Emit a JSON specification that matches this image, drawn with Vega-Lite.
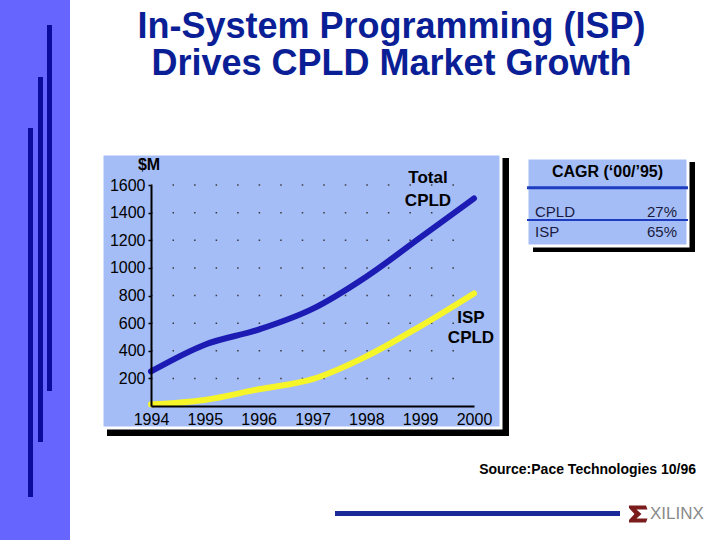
{
  "$schema": "https://vega.github.io/schema/vega-lite/v6.json",
  "width": 323,
  "height": 221,
  "autosize": {"type": "none"},
  "padding": {"left": 151, "top": 185, "right": 246, "bottom": 134},
  "background": "white",
  "config": {
    "font": "Liberation Sans",
    "view": {"stroke": null}
  },
  "datasets": {
    "market": [
      {"year": 1994, "series": "Total CPLD", "value": 250},
      {"year": 1995, "series": "Total CPLD", "value": 444},
      {"year": 1996, "series": "Total CPLD", "value": 553},
      {"year": 1997, "series": "Total CPLD", "value": 703},
      {"year": 1998, "series": "Total CPLD", "value": 936},
      {"year": 1999, "series": "Total CPLD", "value": 1219},
      {"year": 2000, "series": "Total CPLD", "value": 1503},
      {"year": 1994, "series": "ISP CPLD", "value": 12},
      {"year": 1995, "series": "ISP CPLD", "value": 44},
      {"year": 1996, "series": "ISP CPLD", "value": 121},
      {"year": 1997, "series": "ISP CPLD", "value": 194},
      {"year": 1998, "series": "ISP CPLD", "value": 359},
      {"year": 1999, "series": "ISP CPLD", "value": 577},
      {"year": 2000, "series": "ISP CPLD", "value": 815}
    ],
    "cagr": [
      {"metric": "CPLD", "cagr": 0.27},
      {"metric": "ISP", "cagr": 0.65}
    ],
    "levels": [
      {"level": 200}, {"level": 400}, {"level": 600}, {"level": 800},
      {"level": 1000}, {"level": 1200}, {"level": 1400}, {"level": 1600}
    ],
    "one": [{}]
  },
  "layer": [
    {
      "data": {"name": "one"},
      "mark": {"type": "rect", "color": "#6666ff", "clip": false},
      "encoding": {
        "x": {
          "datum": 1991.0, "type": "quantitative",
          "scale": {"domain": [1994, 2000], "nice": false, "zero": false},
          "axis": {
            "title": null, "values": [1994, 1995, 1996, 1997, 1998, 1999, 2000], "tickCount": 12, "format": "d",
            "labelFontSize": 16, "labelColor": "black", "labelPadding": 5, "labelFlush": false, "labelOverlap": false,
            "ticks": false, "grid": false, "domainColor": "black", "domainWidth": 2, "zindex": 1
          }
        },
        "x2": {"datum": 1992.4954},
        "y": {
          "datum": -1200, "type": "quantitative",
          "scale": {"domain": [0, 1600], "nice": false, "zero": true},
          "axis": {
            "title": null, "values": [200, 400, 600, 800, 1000, 1200, 1400, 1600], "tickCount": 12, "format": "d",
            "labelFontSize": 16, "labelColor": "black", "labelPadding": 3, "labelFlush": false, "labelOverlap": false, "labelBound": false,
            "ticks": true, "tickSize": 3, "tickWidth": 1.5, "tickColor": "black",
            "grid": false, "domainColor": "black", "domainWidth": 2, "zindex": 1
          }
        },
        "y2": {"datum": 3300}
      }
    },
    {
      "data": {"name": "one"},
      "mark": {"type": "rect", "color": "#0c0c9c", "clip": false},
      "encoding": {
        "x": {"datum": 1991.7152, "type": "quantitative"}, "x2": {"datum": 1991.808},
        "y": {"datum": -658.8, "type": "quantitative"}, "y2": {"datum": 2012.7}
      }
    },
    {
      "data": {"name": "one"},
      "mark": {"type": "rect", "color": "#0c0c9c", "clip": false},
      "encoding": {
        "x": {"datum": 1991.9009, "type": "quantitative"}, "x2": {"datum": 1991.9938},
        "y": {"datum": -260.6, "type": "quantitative"}, "y2": {"datum": 2381.9}
      }
    },
    {
      "data": {"name": "one"},
      "mark": {"type": "rect", "color": "#0c0c9c", "clip": false},
      "encoding": {
        "x": {"datum": 1992.0681, "type": "quantitative"}, "x2": {"datum": 1992.161},
        "y": {"datum": 108.6, "type": "quantitative"}, "y2": {"datum": 2758.4}
      }
    },
    {
      "data": {"name": "one"},
      "mark": {"type": "rect", "color": "#000000", "clip": false},
      "encoding": {
        "x": {"datum": 1993.1827, "type": "quantitative"}, "x2": {"datum": 2000.6502},
        "y": {"datum": -217.2, "type": "quantitative"}, "y2": {"datum": 1795.5}
      }
    },
    {
      "data": {"name": "one"},
      "mark": {"type": "rect", "fill": "#a4bdf6", "stroke": "white", "strokeWidth": 3, "clip": false},
      "encoding": {
        "x": {"datum": 1993.0898, "type": "quantitative"}, "x2": {"datum": 2000.5015},
        "y": {"datum": -159.3, "type": "quantitative"}, "y2": {"datum": 1824.4}
      }
    },
    {
      "data": {"name": "one"},
      "mark": {"type": "rect", "color": "#000000", "clip": false},
      "encoding": {
        "x": {"datum": 2001.096, "type": "quantitative"}, "x2": {"datum": 2004.1053},
        "y": {"datum": 1114.9, "type": "quantitative"}, "y2": {"datum": 1766.5}
      }
    },
    {
      "data": {"name": "one"},
      "mark": {"type": "rect", "fill": "#a4bdf6", "stroke": "white", "strokeWidth": 3, "clip": false},
      "encoding": {
        "x": {"datum": 2000.9845, "type": "quantitative"}, "x2": {"datum": 2003.9752},
        "y": {"datum": 1158.4, "type": "quantitative"}, "y2": {"datum": 1795.5}
      }
    },
    {
      "data": {"name": "one"},
      "mark": {"type": "text", "fontSize": 16, "fontWeight": "bold", "color": "black", "align": "center", "baseline": "middle", "clip": false},
      "encoding": {
        "x": {"datum": 2002.48, "type": "quantitative"},
        "y": {"datum": 1694.1, "type": "quantitative"},
        "text": {"value": "CAGR (‘00/’95)"}
      }
    },
    {
      "data": {"name": "one"},
      "mark": {"type": "rule", "color": "#1e3cc0", "strokeWidth": 3, "clip": false},
      "encoding": {
        "x": {"datum": 2000.9845, "type": "quantitative"}, "x2": {"datum": 2003.9752},
        "y": {"datum": 1580.5, "type": "quantitative"}
      }
    },
    {
      "data": {"name": "one"},
      "mark": {"type": "rule", "color": "#1e3cc0", "strokeWidth": 2, "clip": false},
      "encoding": {
        "x": {"datum": 2000.9845, "type": "quantitative"}, "x2": {"datum": 2003.9752},
        "y": {"datum": 1346.6, "type": "quantitative"}
      }
    },
    {
      "data": {"name": "cagr"},
      "transform": [{"filter": "datum.metric == 'CPLD'"}],
      "mark": {"type": "text", "fontSize": 15, "color": "#1a1a40", "align": "left", "baseline": "middle", "clip": false},
      "encoding": {
        "x": {"datum": 2001.1331, "type": "quantitative"},
        "y": {"datum": 1404.5, "type": "quantitative"},
        "text": {"field": "metric"}
      }
    },
    {
      "data": {"name": "cagr"},
      "transform": [{"filter": "datum.metric == 'CPLD'"}],
      "mark": {"type": "text", "fontSize": 15, "color": "#1a1a40", "align": "right", "baseline": "middle", "clip": false},
      "encoding": {
        "x": {"datum": 2003.7709, "type": "quantitative"},
        "y": {"datum": 1404.5, "type": "quantitative"},
        "text": {"field": "cagr", "format": ".0%"}
      }
    },
    {
      "data": {"name": "cagr"},
      "transform": [{"filter": "datum.metric == 'ISP'"}],
      "mark": {"type": "text", "fontSize": 15, "color": "#1a1a40", "align": "left", "baseline": "middle", "clip": false},
      "encoding": {
        "x": {"datum": 2001.1331, "type": "quantitative"},
        "y": {"datum": 1259.7, "type": "quantitative"},
        "text": {"field": "metric"}
      }
    },
    {
      "data": {"name": "cagr"},
      "transform": [{"filter": "datum.metric == 'ISP'"}],
      "mark": {"type": "text", "fontSize": 15, "color": "#1a1a40", "align": "right", "baseline": "middle", "clip": false},
      "encoding": {
        "x": {"datum": 2003.7709, "type": "quantitative"},
        "y": {"datum": 1259.7, "type": "quantitative"},
        "text": {"field": "cagr", "format": ".0%"}
      }
    },
    {
      "data": {"name": "levels"},
      "mark": {"type": "rule", "color": "#3a3a3a", "strokeWidth": 1.5, "strokeDash": [1.5, 20.033], "clip": false},
      "encoding": {
        "x": {"datum": 1994, "type": "quantitative"}, "x2": {"datum": 2000},
        "y": {"field": "level", "type": "quantitative"}
      }
    },
    {
      "data": {"name": "market"},
      "mark": {"type": "line", "strokeWidth": 6, "interpolate": "monotone", "strokeCap": "round", "clip": false},
      "encoding": {
        "x": {"field": "year", "type": "quantitative"},
        "y": {"field": "value", "type": "quantitative"},
        "color": {
          "field": "series", "type": "nominal",
          "scale": {"domain": ["Total CPLD", "ISP CPLD"], "range": ["#1c1cb4", "#f5f52a"]},
          "legend": null
        }
      }
    },
    {
      "data": {"name": "one"},
      "mark": {"type": "text", "fontSize": 17, "fontWeight": "bold", "color": "black", "align": "center", "baseline": "alphabetic", "lineBreak": "\n", "lineHeight": 23, "clip": false},
      "encoding": {
        "x": {"datum": 1999.1455, "type": "quantitative"},
        "y": {"datum": 1615.9, "type": "quantitative"},
        "text": {"value": "Total\nCPLD"}
      }
    },
    {
      "data": {"name": "one"},
      "mark": {"type": "text", "fontSize": 17, "fontWeight": "bold", "color": "black", "align": "center", "baseline": "alphabetic", "lineBreak": "\n", "lineHeight": 20, "clip": false},
      "encoding": {
        "x": {"datum": 1999.9443, "type": "quantitative"},
        "y": {"datum": 602.4, "type": "quantitative"},
        "text": {"value": "ISP\nCPLD"}
      }
    },
    {
      "data": {"name": "one"},
      "mark": {"type": "text", "fontSize": 16, "fontWeight": "bold", "color": "black", "align": "center", "baseline": "middle", "clip": false},
      "encoding": {
        "x": {"datum": 1993.9628, "type": "quantitative"},
        "y": {"datum": 1744.8, "type": "quantitative"},
        "text": {"value": "$M"}
      }
    },
    {
      "data": {"name": "one"},
      "mark": {"type": "text", "fontSize": 14, "fontWeight": "bold", "color": "black", "align": "right", "baseline": "middle", "clip": false},
      "encoding": {
        "x": {"datum": 2004.1238, "type": "quantitative"},
        "y": {"datum": -463.4, "type": "quantitative"},
        "text": {"value": "Source:Pace Technologies 10/96"}
      }
    },
    {
      "data": {"name": "one"},
      "mark": {"type": "rule", "color": "#1a2a99", "strokeWidth": 5, "clip": false},
      "encoding": {
        "x": {"datum": 1997.418, "type": "quantitative"}, "x2": {"datum": 2002.7121},
        "y": {"datum": -778.3, "type": "quantitative"}
      }
    },
    {
      "data": {"name": "one"},
      "mark": {"type": "point", "filled": true, "color": "#7a1c1c", "opacity": 1, "size": 400, "clip": false,
        "shape": "M -0.9 -0.85 L 0.8 -0.85 L 0.95 -0.45 L -0.15 -0.45 L 0.35 0 L -0.15 0.45 L 0.95 0.45 L 0.8 0.85 L -0.9 0.85 L -0.9 0.6 L -0.35 0 L -0.9 -0.6 Z"},
      "encoding": {
        "x": {"datum": 2003.0464, "type": "quantitative"},
        "y": {"datum": -781.9, "type": "quantitative"}
      }
    },
    {
      "data": {"name": "one"},
      "mark": {"type": "text", "fontSize": 17, "font": "'Liberation Sans Narrow', 'Liberation Sans'", "color": "#8a8a8a", "align": "left", "baseline": "middle", "clip": false},
      "encoding": {
        "x": {"datum": 2003.2693, "type": "quantitative"},
        "y": {"datum": -781.9, "type": "quantitative"},
        "text": {"value": "XILINX"}
      }
    },
    {
      "data": {"name": "one"},
      "mark": {"type": "text", "fontSize": 36, "fontWeight": "bold", "color": "#0a1e96", "align": "center", "baseline": "alphabetic", "lineBreak": "\n", "lineHeight": 37, "clip": false},
      "encoding": {
        "x": {"datum": 1998.4675, "type": "quantitative"},
        "y": {"datum": 2664.25, "type": "quantitative"},
        "text": {"value": "In-System Programming (ISP)\nDrives CPLD Market Growth"}
      }
    }
  ]
}
